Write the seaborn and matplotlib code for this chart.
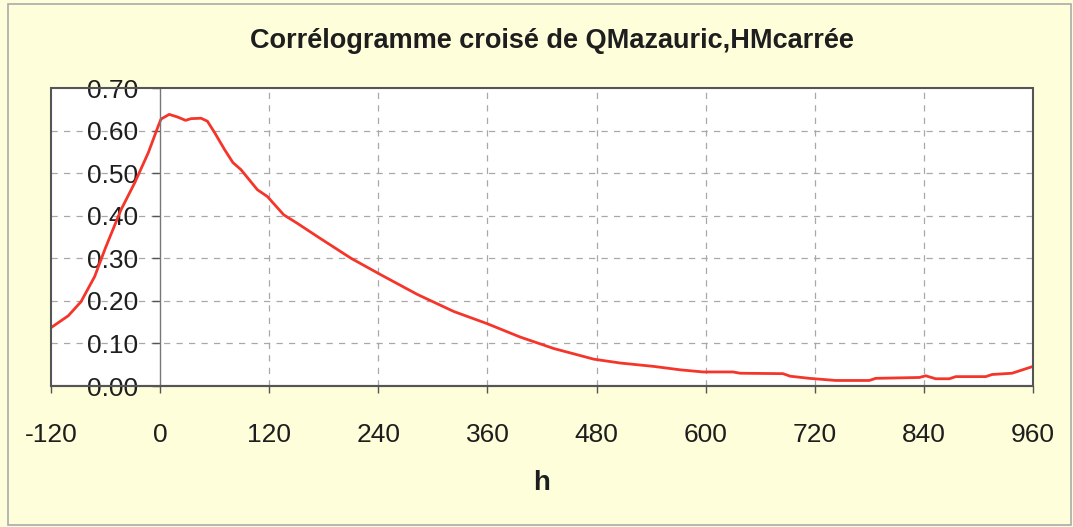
import numpy as np
import pandas as pd
import matplotlib
matplotlib.use("Agg")
import matplotlib.pyplot as plt
from matplotlib.patches import Rectangle
import seaborn as sns

# Cross-correlogram: lag h (hours) vs correlation
lag_h = [-120, -101, -87, -72, -60, -43, -28, -13, -2, 1, 10, 19, 28, 34, 45,
         52, 60, 71, 80, 89, 107, 118, 136, 151, 173, 210, 243, 283, 312, 323,
         359, 396, 433, 477, 506, 543, 572, 597, 630, 638, 685, 693, 714, 743,
         780, 787, 835, 842, 853, 868, 875, 908, 915, 937, 960]
correlation = [0.137, 0.165, 0.198, 0.257, 0.325, 0.414, 0.477, 0.548, 0.611,
               0.627, 0.638, 0.632, 0.624, 0.628, 0.629, 0.622, 0.595, 0.555,
               0.525, 0.508, 0.461, 0.445, 0.402, 0.382, 0.351, 0.300, 0.261,
               0.215, 0.186, 0.175, 0.147, 0.115, 0.088, 0.063, 0.054, 0.046,
               0.038, 0.033, 0.033, 0.030, 0.029, 0.023, 0.018, 0.013, 0.013,
               0.018, 0.020, 0.024, 0.017, 0.017, 0.022, 0.022, 0.027, 0.030,
               0.046]
x_ticks = [-120, 0, 120, 240, 360, 480, 600, 720, 840, 960]
y_ticks = [0.0, 0.1, 0.2, 0.3, 0.4, 0.5, 0.6, 0.7]
title = "Corrélogramme croisé de QMazauric,HMcarrée"
x_label = "h"

df = pd.DataFrame({"h": lag_h, "r": correlation})

sns.set_theme(style="white")
plt.rcParams["font.family"] = ["Liberation Sans", "DejaVu Sans"]
plt.rcParams["axes.unicode_minus"] = False

bg = "#FEFFDA"
fig = plt.figure(figsize=(10.73, 5.27), dpi=100, facecolor=bg)
ax = fig.add_axes([51 / 1073, 1 - 386 / 527, (1033 - 51) / 1073, (386 - 88) / 527])
ax.set_facecolor("white")

sns.lineplot(data=df, x="h", y="r", ax=ax, color="#F5352A", linewidth=2.0)

ax.set_xlim(-120, 960)
ax.set_ylim(0, 0.7)
ax.set_xticks(x_ticks)
ax.set_xticklabels([str(v) for v in x_ticks])
ax.set_yticks(y_ticks)
ax.set_yticklabels([f"{v:.2f}" for v in y_ticks])

# dashed grid (skip the lines that coincide with axes/frame)
for v in y_ticks[1:-1]:
    ax.axhline(v, color="#A8A8A8", linestyle=(0, (5, 5)), linewidth=0.9, zorder=0)
for v in x_ticks[2:-1]:
    ax.axvline(v, color="#A8A8A8", linestyle=(0, (5, 5)), linewidth=0.9, zorder=0)

# vertical axis crosses at h = 0
for s in ["top", "right"]:
    ax.spines[s].set_visible(False)
ax.spines["left"].set_position(("data", 0))
ax.spines["left"].set_color("#777777")
ax.spines["left"].set_linewidth(1.0)
ax.spines["bottom"].set_color("#555555")
ax.spines["bottom"].set_linewidth(1.5)
ax.add_patch(Rectangle((0, 0), 1, 1, transform=ax.transAxes, fill=False,
                       edgecolor="#555555", linewidth=1.5, clip_on=False, zorder=5))

ax.tick_params(axis="y", direction="out", length=6, width=1, color="#555555",
               pad=10, labelsize=19, labelcolor="#1E1E1E", left=True)
ax.tick_params(axis="x", direction="out", length=5, width=1, color="#555555",
               pad=22, labelsize=19, labelcolor="#1E1E1E", bottom=True)

ax.set_xlabel(x_label, fontsize=20, fontweight="bold", color="#1E1E1E", labelpad=16)
ax.set_ylabel("")

fig.text(552 / 1073, 1 - 41 / 527, title, ha="center", va="center",
         fontsize=19.5, fontweight="bold", color="#1E1E1E")

# outer chart border
fig.patches.append(Rectangle((8 / 1073, 2 / 527), 1063 / 1073, 521 / 527,
                             transform=fig.transFigure, fill=False,
                             edgecolor="#AAAAAA", linewidth=1.2))

fig.savefig("out.png", dpi=100, facecolor=bg)
